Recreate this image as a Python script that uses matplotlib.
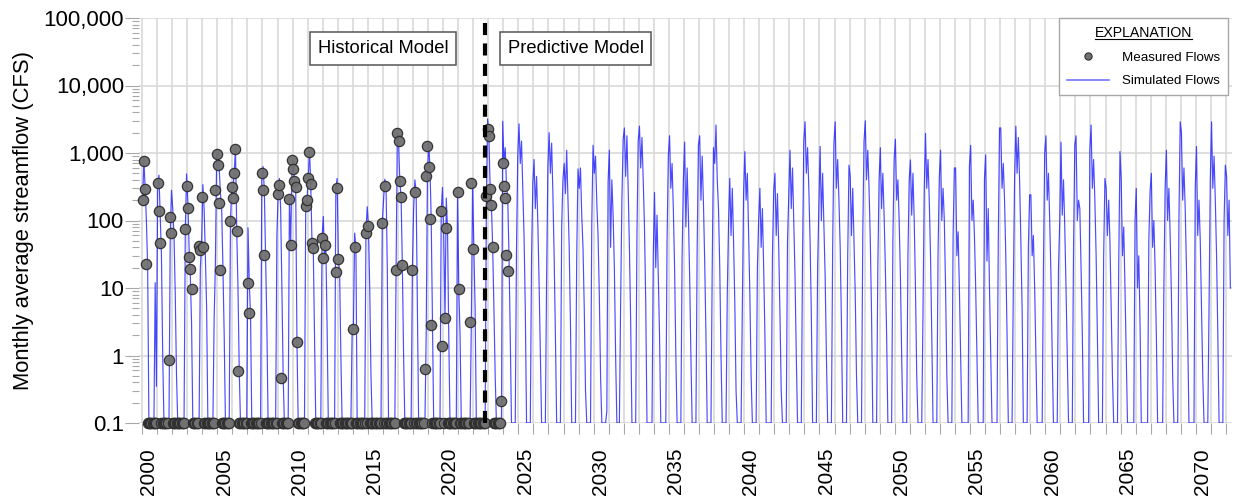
import matplotlib
matplotlib.use("Agg")
import matplotlib.pyplot as plt
import numpy as np
from matplotlib import font_manager
from matplotlib.lines import Line2D
import matplotlib.ticker as mticker

# ---------------- data ----------------
# Simulated monthly flows (CFS), Jan..Dec per calendar year
sim_years_hist = list(range(2000, 2025))
sim_hist = [
    [200, 800, 300, 100, 20, 0.1, 0.1, 0.1, 0.1, 0.1, 12, 0.35],      # 2000
    [300, 470, 120, 30, 1, 0.1, 0.1, 0.1, 0.1, 0.1, 60, 280],         # 2001
    [150, 60, 8, 0.5, 0.1, 0.1, 0.1, 0.1, 0.1, 0.1, 70, 490],         # 2002
    [200, 40, 15, 3, 0.1, 0.1, 0.1, 0.1, 0.1, 0.1, 20, 45],           # 2003
    [340, 150, 30, 5, 0.1, 0.1, 0.1, 0.1, 0.1, 3.5, 24, 900],         # 2004
    [1050, 600, 250, 150, 20, 2, 0.1, 0.1, 0.1, 0.1, 100, 300],       # 2005
    [300, 510, 1180, 70, 10, 0.6, 0.1, 0.1, 0.1, 0.1, 0.1, 0.1],      # 2006
    [78, 12, 4, 0.1, 0.1, 0.1, 0.1, 0.1, 0.1, 0.1, 0.1, 500],         # 2007
    [630, 280, 31, 3, 0.1, 0.1, 0.1, 0.1, 0.1, 0.1, 0.1, 60],         # 2008
    [245, 420, 150, 10, 0.5, 0.1, 0.1, 0.1, 0.1, 210, 44, 580],       # 2009
    [790, 390, 310, 1.6, 0.1, 0.1, 0.1, 0.1, 0.1, 0.1, 165, 200],     # 2010
    [420, 1100, 345, 46, 39, 2, 0.1, 0.1, 0.1, 0.1, 0.1, 55],         # 2011
    [115, 28, 43, 3, 0.1, 0.1, 0.1, 0.1, 0.1, 0.1, 300, 420],         # 2012
    [27, 17, 1, 0.1, 0.1, 0.1, 0.1, 0.1, 0.1, 0.1, 0.1, 2.5],         # 2013
    [2.5, 65, 40, 0.1, 0.1, 0.1, 0.1, 0.1, 0.1, 0.1, 66, 160],        # 2014
    [83, 10, 0.5, 0.1, 0.1, 0.1, 0.1, 0.1, 0.1, 0.1, 0.1, 92],        # 2015
    [200, 410, 330, 20, 0.1, 0.1, 0.1, 0.1, 0.1, 0.1, 18.6, 1950],    # 2016
    [1500, 380, 220, 22, 1, 0.1, 0.1, 0.1, 0.1, 0.1, 0.1, 18.6],      # 2017
    [150, 400, 260, 5, 0.1, 0.1, 0.1, 0.1, 0.1, 0.1, 2, 460],         # 2018
    [1480, 610, 107, 2.8, 0.1, 0.1, 0.1, 0.1, 0.1, 0.1, 138, 310],    # 2019
    [60, 3.6, 215, 78, 2, 0.1, 0.1, 0.1, 0.1, 0.1, 0.1, 280],         # 2020
    [9.6, 2, 0.1, 0.1, 0.1, 0.1, 0.1, 0.1, 0.1, 0.1, 3.1, 400],       # 2021
    [38, 5, 0.1, 0.1, 0.1, 0.1, 0.1, 0.1, 0.1, 0.1, 230, 3200],       # 2022
    [1780, 290, 170, 40, 5, 0.5, 0.1, 0.1, 0.1, 0.1, 0.1, 2950],      # 2023
    [700, 1200, 325, 215, 31, 2, 0.1, 0.1, 0.1, 0.1, 40, 900],        # 2024
]

sim_years_pred = list(range(2025, 2073))
sim_pred = [
    [2700, 700, 1500, 300, 60, 5, 0.1, 0.1, 0.1, 0.1, 30, 350],       # 2025
    [800, 150, 450, 90, 12, 1, 0.1, 0.1, 0.1, 0.1, 15, 600],          # 2026
    [2000, 500, 1400, 250, 30, 2, 0.1, 0.1, 0.1, 0.1, 80, 400],       # 2027
    [700, 250, 1100, 200, 40, 3, 0.1, 0.1, 0.1, 0.1, 30, 580],        # 2028
    [300, 600, 120, 40, 5, 0.3, 0.1, 0.1, 0.1, 0.1, 90, 1300],        # 2029
    [500, 900, 180, 60, 8, 0.5, 0.1, 0.1, 0.1, 0.1, 0.15, 370],       # 2030
    [1100, 40, 400, 120, 20, 1, 0.1, 0.1, 0.1, 6, 200, 1600],         # 2031
    [2350, 450, 1800, 300, 40, 3, 0.1, 0.1, 0.1, 0.1, 60, 1500],      # 2032
    [2500, 600, 1700, 400, 80, 6, 0.1, 0.1, 0.1, 0.1, 0.1, 30],       # 2033
    [260, 20, 120, 15, 2, 0.1, 0.1, 0.1, 0.1, 0.1, 50, 900],          # 2034
    [1800, 300, 700, 150, 20, 1, 0.1, 0.1, 0.1, 0.1, 30, 400],        # 2035
    [1450, 80, 600, 120, 15, 1, 0.1, 0.1, 0.1, 0.1, 40, 1300],        # 2036
    [1800, 200, 900, 180, 25, 2, 0.1, 0.1, 0.1, 0.1, 20, 1200],       # 2037
    [700, 2600, 400, 150, 20, 1, 0.1, 0.1, 0.1, 0.1, 8, 90],          # 2038
    [420, 60, 300, 50, 6, 0.3, 0.1, 0.1, 0.1, 0.1, 5, 250],           # 2039
    [1050, 200, 500, 60, 8, 0.5, 0.1, 0.1, 0.1, 0.1, 20, 100],        # 2040
    [300, 40, 150, 20, 2, 0.1, 0.1, 0.1, 0.1, 0.1, 30, 270],          # 2041
    [500, 60, 250, 40, 4, 0.3, 0.1, 0.1, 0.1, 0.1, 50, 250],          # 2042
    [1100, 150, 600, 100, 15, 1, 0.1, 0.1, 0.1, 0.1, 30, 1500],       # 2043
    [2900, 500, 1200, 300, 50, 4, 0.1, 0.1, 0.1, 0.1, 20, 170],       # 2044
    [1250, 100, 500, 90, 15, 1, 0.1, 0.1, 0.1, 0.1, 40, 1400],        # 2045
    [2900, 300, 800, 200, 40, 3, 0.1, 0.1, 0.1, 0.1, 30, 660],        # 2046
    [450, 60, 300, 50, 8, 0.5, 0.1, 0.1, 0.1, 0.1, 60, 1500],         # 2047
    [3000, 400, 1100, 300, 50, 4, 0.1, 0.1, 0.1, 0.1, 20, 400],       # 2048
    [1200, 150, 500, 120, 20, 2, 0.1, 0.1, 0.1, 0.1, 50, 800],        # 2049
    [1600, 200, 400, 100, 15, 1, 0.1, 0.1, 0.1, 0.1, 30, 400],        # 2050
    [790, 120, 500, 100, 10, 0.5, 0.1, 0.1, 0.1, 0.1, 4.3, 300],      # 2051
    [1950, 300, 800, 200, 30, 2, 0.1, 0.1, 0.1, 0.1, 33, 430],        # 2052
    [1100, 100, 300, 100, 10, 0.5, 0.1, 0.1, 0.1, 0.1, 60, 600],      # 2053
    [600, 30, 68, 10, 1, 0.1, 0.1, 0.1, 0.1, 0.1, 0.1, 630],          # 2054
    [1300, 100, 200, 60, 10, 1, 0.1, 0.1, 0.1, 0.1, 0.1, 420],        # 2055
    [940, 25, 150, 10, 1, 0.1, 0.1, 0.1, 0.1, 0.1, 50, 2350],         # 2056
    [2350, 300, 700, 200, 30, 2, 0.1, 0.1, 0.1, 0.1, 10, 400],        # 2057
    [2500, 500, 1700, 400, 50, 5, 0.1, 0.1, 0.1, 0.1, 41, 240],       # 2058
    [240, 30, 60, 10, 1, 0.1, 0.1, 0.1, 0.1, 0.1, 20, 1000],          # 2059
    [1800, 200, 500, 100, 15, 1, 0.1, 0.1, 0.1, 0.1, 20, 100],        # 2060
    [1450, 120, 400, 80, 10, 1, 0.1, 0.1, 0.1, 0.1, 40, 1300],        # 2061
    [1800, 100, 200, 150, 20, 2, 0.1, 0.1, 0.1, 0.1, 0.1, 1100],      # 2062
    [2600, 300, 800, 200, 30, 2, 0.1, 0.1, 0.1, 0.1, 30, 420],        # 2063
    [300, 60, 200, 50, 5, 0.5, 0.1, 0.1, 0.1, 0.1, 20, 1050],         # 2064
    [400, 30, 80, 10, 1, 0.1, 0.1, 0.1, 0.1, 0.1, 0.1, 100],          # 2065
    [300, 10, 30, 3, 0.1, 0.1, 0.1, 0.1, 0.1, 0.1, 50, 270],          # 2066
    [500, 40, 100, 20, 2, 0.1, 0.1, 0.1, 0.1, 0.1, 10, 300],          # 2067
    [1100, 100, 300, 60, 8, 0.5, 0.1, 0.1, 0.1, 0.1, 100, 2900],      # 2068
    [2000, 200, 600, 150, 20, 2, 0.1, 0.1, 0.1, 0.1, 0.1, 300],       # 2069
    [1250, 60, 200, 50, 5, 0.5, 0.1, 0.1, 0.1, 0.1, 5, 400],          # 2070
    [2900, 300, 900, 200, 30, 2, 0.1, 0.1, 0.1, 0.1, 100, 660],       # 2071
    [450, 60, 200, 10],                                               # 2072
]

# Measured monthly flows (CFS), Jan..Dec per calendar year; 0.1 plots zero flow
meas_years = list(range(2000, 2025))
meas = [
    [200, 760, 290, 23, 0.1, 0.1, 0.1, 0.1, 0.1, 0.1, 0.1, 0.1],      # 2000
    [355, 138, 47, 0.1, 0.1, 0.1, 0.1, 0.1, 0.1, 0.86, 112, 66],      # 2001
    [0.1, 0.1, 0.1, 0.1, 0.1, 0.1, 0.1, 0.1, 0.1, 0.1, 74, 325],      # 2002
    [155, 29, 19, 9.6, 0.1, 0.1, 0.1, 0.1, 0.1, 42, 36, 225],         # 2003
    [40, 0.1, 0.1, 0.1, 0.1, 0.1, 0.1, 0.1, 0.1, 0.1, 280, 980],      # 2004
    [660, 180, 18.6, 0.1, 0.1, 0.1, 0.1, 0.1, 0.1, 0.1, 100, 310],    # 2005
    [215, 510, 1150, 70, 0.58, 0.1, 0.1, 0.1, 0.1, 0.1, 0.1, 0.1],    # 2006
    [12, 4.3, 0.1, 0.1, 0.1, 0.1, 0.1, 0.1, 0.1, 0.1, 0.1, 500],      # 2007
    [280, 31, 0.1, 0.1, 0.1, 0.1, 0.1, 0.1, 0.1, 0.1, 0.1, 0.1],      # 2008
    [245, 340, 0.46, 0.1, 0.1, 0.1, 0.1, 0.1, 0.1, 210, 44, 790],     # 2009
    [580, 390, 310, 1.6, 0.1, 0.1, 0.1, 0.1, 0.1, 0.1, 165, 200],     # 2010
    [420, 1050, 345, 46, 39, 0.1, 0.1, 0.1, 0.1, 0.1, 0.1, 55],       # 2011
    [28, 43, 0.1, 0.1, 0.1, 0.1, 0.1, 0.1, 0.1, 0.1, 17, 300],        # 2012
    [27, 0.1, 0.1, 0.1, 0.1, 0.1, 0.1, 0.1, 0.1, 0.1, 0.1, 0.1],      # 2013
    [2.5, 40, 0.1, 0.1, 0.1, 0.1, 0.1, 0.1, 0.1, 0.1, 66, 0.1],       # 2014
    [83, 0.1, 0.1, 0.1, 0.1, 0.1, 0.1, 0.1, 0.1, 0.1, 0.1, 92],       # 2015
    [0.1, 330, 0.1, 0.1, 0.1, 0.1, 0.1, 0.1, 0.1, 0.1, 18.6, 1950],   # 2016
    [1500, 380, 220, 22, 0.1, 0.1, 0.1, 0.1, 0.1, 0.1, 0.1, 18.6],    # 2017
    [0.1, 260, 0.1, 0.1, 0.1, 0.1, 0.1, 0.1, 0.1, 0.63, 460, 1260],   # 2018
    [610, 107, 2.8, 0.1, 0.1, 0.1, 0.1, 0.1, 0.1, 0.1, 138, 1.4],     # 2019
    [0.1, 3.6, 78, 0.1, 0.1, 0.1, 0.1, 0.1, 0.1, 0.1, 0.1, 260],      # 2020
    [9.6, 0.1, 0.1, 0.1, 0.1, 0.1, 0.1, 0.1, 0.1, 3.1, 360, 38],      # 2021
    [0.1, 0.1, 0.1, 0.1, 0.1, 0.1, 0.1, 0.1, 0.1, 0.1, 230, 2240],    # 2022
    [1780, 290, 170, 40, 0.1, 0.1, 0.1, 0.1, 0.1, 0.1, 0.21, 700],    # 2023
    [325, 215, 31, 18],                                               # 2024
]

model_split = 2022.75
y_ticks = [0.1, 1, 10, 100, 1000, 10000, 100000]
y_tick_labels = ["0.1", "1", "10", "100", "1,000", "10,000", "100,000"]
x_label_years = list(range(2000, 2071, 5))


def monthly_series(years, table):
    xs, ys = [], []
    for yr, row in zip(years, table):
        for m, v in enumerate(row):
            xs.append(yr + (m + 0.5) / 12.0)
            ys.append(v)
    return np.array(xs), np.array(ys)


sim_x, sim_y = monthly_series(sim_years_hist + sim_years_pred, sim_hist + sim_pred)
meas_x, meas_y = monthly_series(meas_years, meas)

# ---------------- fonts ----------------
names = {f.name for f in font_manager.fontManager.ttflist}
base_font = "Liberation Sans" if "Liberation Sans" in names else "DejaVu Sans"
plt.rcParams["font.family"] = [base_font, "DejaVu Sans"]

# ---------------- figure ----------------
W, H = 1234, 497
fig = plt.figure(figsize=(W / 100, H / 100), dpi=100)
left_px, right_px, top_px, bottom_px = 139, 1232, 18, 423
ax = fig.add_axes([left_px / W, 1 - bottom_px / H,
                   (right_px - left_px) / W, (bottom_px - top_px) / H])

ax.set_yscale("log")
ax.set_ylim(0.1, 100000)
ax.set_xlim(1999.8, 2072.4)

grid_col = "#d6d6d6"
tick_col = "#a8a8a8"

# simulated and measured series
ax.plot(sim_x, sim_y, color=(0.0, 0.0, 1.0), alpha=0.7, lw=0.85, zorder=3)
ax.plot(meas_x, meas_y, "o", ms=7.4, mfc="#717171", mec="#2e2e2e", mew=0.9,
        alpha=0.95, zorder=4, clip_on=False)

# boundary between historical and predictive periods
ax.axvline(model_split, color="black", lw=3.0, dashes=(2.9, 2.0), zorder=5)

# axes styling
for s in ax.spines.values():
    s.set_visible(False)

ax.set_yticks(y_ticks)
ax.set_yticklabels(y_tick_labels)
ax.yaxis.set_minor_locator(mticker.LogLocator(base=10, subs=np.arange(2, 10), numticks=20))
ax.yaxis.set_minor_formatter(mticker.NullFormatter())
ax.tick_params(axis="y", which="major", direction="out", length=10, width=0.8,
               color=tick_col, labelsize=16, pad=0.8)
ax.tick_params(axis="y", which="minor", direction="out", length=5, width=0.8,
               color=tick_col)

ax.set_xticks(np.arange(2000, 2073, 1))
ax.set_xticklabels([])
ax.set_xticks([y + 0.45 for y in x_label_years], minor=True)
ax.set_xticklabels([str(y) for y in x_label_years], minor=True, rotation=90)
ax.tick_params(axis="x", which="major", direction="out", length=8, width=0.8,
               color=tick_col)
ax.tick_params(axis="x", which="minor", length=0, labelsize=15, pad=18)

ax.grid(True, which="major", axis="both", color=grid_col, lw=1.1, zorder=0)
ax.set_axisbelow(True)

ax.set_ylabel("Monthly average streamflow (CFS)", fontsize=15.8, labelpad=7)

# period labels
box = dict(boxstyle="square,pad=0.42", fc="white", ec="#555555", lw=1.1)
ax.text(0.2236, 0.9247, "Historical Model", transform=ax.transAxes, ha="center",
        va="center", fontsize=13.2, bbox=box, zorder=6)
ax.text(0.3994, 0.9247, "Predictive Model", transform=ax.transAxes, ha="center",
        va="center", fontsize=13.2, bbox=box, zorder=6)

# legend
handles = [
    Line2D([], [], marker="o", ls="none", ms=5.2, mfc="#717171", mec="#2e2e2e", mew=0.8),
    Line2D([], [], color=(0.45, 0.45, 1.0), lw=1.2),
]
leg = ax.legend(handles, ["Measured Flows", "Simulated Flows"], title="EXPLANATION",
                loc="upper right", bbox_to_anchor=(1228 / W, 1 - 18 / H),
                bbox_transform=fig.transFigure, borderaxespad=0, fancybox=False,
                framealpha=1, edgecolor="#a8a8a8", fontsize=9.6,
                handlelength=3.2, handletextpad=0.95,
                labelspacing=0.85, borderpad=0.6)
leg.get_title().set_fontsize(10.2)
leg.get_frame().set_linewidth(1.0)
leg.set_zorder(7)

# underline the legend title
fig.canvas.draw()
tb = leg.get_title().get_window_extent(fig.canvas.get_renderer())
fig.add_artist(Line2D([tb.x0, tb.x1], [tb.y0 + 1, tb.y0 + 1], transform=None,
                      color="black", lw=0.8, zorder=9))

fig.savefig("out.png", dpi=100)
